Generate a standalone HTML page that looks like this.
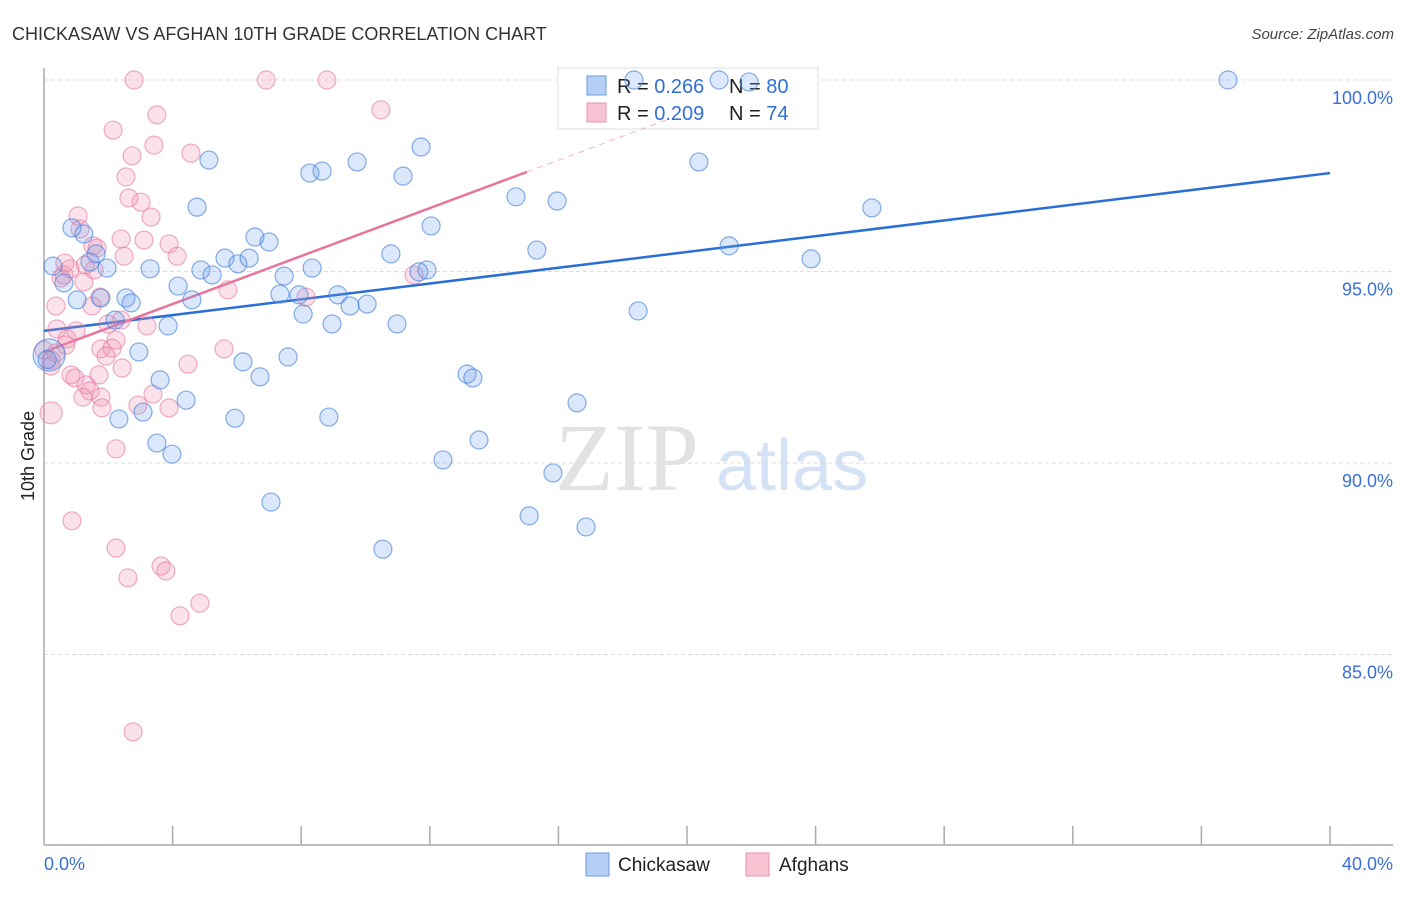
<!DOCTYPE html>
<html><head><meta charset="utf-8"><style>
body{margin:0;background:#fff;font-family:"Liberation Sans",sans-serif}
</style></head><body>
<svg id="chart" width="1406" height="892" xmlns="http://www.w3.org/2000/svg" font-family="Liberation Sans, sans-serif">
<text x="12" y="40" font-size="18" fill="#333">CHICKASAW VS AFGHAN 10TH GRADE CORRELATION CHART</text>
<text x="1394" y="39" font-size="15" fill="#444" font-style="italic" text-anchor="end">Source: ZipAtlas.com</text>
<text transform="translate(34,456) rotate(-90)" font-size="18" fill="#222" text-anchor="middle">10th Grade</text>
<g>
<text x="555" y="490" font-size="96" font-family="Liberation Serif, serif" fill="#e2e2e2">ZIP</text>
<text x="716" y="490" font-size="72" fill="#d5e2f5">atlas</text>
</g>
<g id="grid"></g><g id="axes"></g>
<g>
<rect x="558" y="68" width="260" height="61" fill="#fff" stroke="#ddd"/>
<rect x="587" y="76" width="19" height="19" fill="#b5cff5" stroke="#6b9be0"/>
<rect x="587" y="103" width="19" height="19" fill="#f8c3d3" stroke="#ec93b0"/>
<text x="617" y="93" font-size="20" fill="#222">R = <tspan fill="#2f6fd6">0.266</tspan></text>
<text x="729" y="93" font-size="20" fill="#222">N = <tspan fill="#2f6fd6">80</tspan></text>
<text x="617" y="120" font-size="20" fill="#222">R = <tspan fill="#2f6fd6">0.209</tspan></text>
<text x="729" y="120" font-size="20" fill="#222">N = <tspan fill="#2f6fd6"> 74</tspan></text>
</g>
<g id="trends"></g><g id="pts"></g>
<g>
<rect x="586" y="853" width="23" height="23" fill="#b5cff5" stroke="#6b9be0"/>
<text x="618" y="871" font-size="19" fill="#222">Chickasaw</text>
<rect x="746" y="853" width="23" height="23" fill="#f8c3d3" stroke="#ec93b0"/>
<text x="779" y="871" font-size="19" fill="#222">Afghans</text>
</g>
</svg>
<script>
const yTicks=[100,95,90,85];
const yTickLabels=["100.0%","95.0%","90.0%","85.0%"];
const xLabels=["0.0%","40.0%"];
const blueX=[0.28,0.87,1.24,0.62,1.03,1.43,1.62,1.96,1.77,2.21,2.55,2.71,2.95,3.30,3.61,3.86,4.17,4.60,4.76,4.88,5.13,5.23,5.63,6.03,6.38,6.56,7.00,7.34,7.47,7.59,7.93,8.06,8.27,8.34,8.65,8.96,9.14,9.52,9.74,10.05,10.79,10.98,11.17,11.73,11.91,12.04,11.66,13.16,13.34,12.41,13.53,14.68,15.33,15.96,16.58,18.48,20.37,21.31,23.86,25.75,36.83,21.0,18.35,21.93,15.09,16.86,15.83,10.54,7.06,8.86,5.94,6.19,6.72,4.42,3.98,3.51,3.08,2.33,0.16,0.1];
const blueY=[95.14,96.14,95.98,94.70,94.26,95.25,95.46,95.09,94.31,93.73,94.31,94.18,92.90,95.07,92.17,93.58,94.62,94.26,96.68,95.04,97.91,94.91,95.35,95.20,95.35,95.90,95.77,94.41,94.88,92.77,94.39,93.89,97.57,95.09,97.62,93.63,94.39,94.10,97.86,94.15,95.46,93.63,97.49,98.25,95.04,96.19,94.99,92.32,92.22,90.08,90.60,96.95,95.56,96.84,91.57,93.97,97.86,95.67,95.33,96.66,100,100,100,99.95,88.62,88.33,89.74,87.75,88.98,91.20,91.17,92.64,92.25,91.64,90.23,90.52,91.33,91.15,92.82,92.7];
const pinkX=[2.80,6.91,8.80,10.48,3.51,2.15,3.42,2.74,4.57,2.55,2.64,3.02,3.33,1.06,1.12,2.40,3.11,1.52,1.65,3.89,4.14,2.49,0.65,0.53,1.24,1.56,0.62,1.49,0.37,0.40,1.00,1.99,2.40,5.72,8.15,11.51,3.20,2.24,1.77,2.12,1.93,0.37,0.72,0.22,0.22,5.60,4.48,2.43,0.84,1.71,0.96,1.31,1.43,1.21,1.77,1.80,2.92,3.39,3.89,0.22,2.24,0.87,2.24,2.61,3.64,3.79,4.85,4.23,2.77,1.28,0.68,0.0,0.81,1.74];
const pinkY=[100,100,100,99.22,99.09,98.69,98.30,98.02,98.09,97.47,96.92,96.81,96.42,96.45,96.11,95.85,95.82,95.67,95.61,95.72,95.40,95.40,95.22,94.83,94.73,95.04,94.91,94.10,94.10,93.50,93.45,93.63,93.73,94.52,94.33,94.91,93.58,93.21,92.98,93.00,92.79,92.87,93.24,92.69,92.53,92.98,92.58,92.48,92.30,92.30,92.22,92.04,91.88,91.72,91.72,91.44,91.51,91.80,91.44,91.31,90.37,88.49,87.78,87.00,87.31,87.18,86.34,86.01,82.98,95.17,93.08,92.95,95.07,94.33];
const blueTrend=[[0,93.45],[40,97.57]];
const pinkTrend=[[0,92.90],[15.02,97.60]];
const pinkTrendExt=[[15.02,97.60],[19.5,99.0]];

const NS="http://www.w3.org/2000/svg";
const X0=44,X1=1330,YTOP=80,PER=38.3;
const sx=v=>X0+(v/40)*(X1-X0);
const sy=v=>YTOP+(100-v)*PER;
function mk(tag,attrs,parent){const e=document.createElementNS(NS,tag);for(const k in attrs)e.setAttribute(k,attrs[k]);parent.appendChild(e);return e;}
const grid=document.getElementById('grid'),axes=document.getElementById('axes'),tr=document.getElementById('trends'),pts=document.getElementById('pts');
yTicks.forEach((t,i)=>{
 const l=mk('line',{x1:X0,x2:1393,y1:sy(t),y2:sy(t),stroke:'#ddd','stroke-dasharray':'4,3'},grid);
 
 
 const tx=mk('text',{x:1393,y:sy(t)+24,'font-size':18,fill:'#3a6fd8','text-anchor':'end'},axes);
 tx.textContent=yTickLabels[i];
 
 
});
const ya=mk('line',{x1:X0,x2:X0,y1:68,y2:845,stroke:'#aaa','stroke-width':1.5},axes);


const xa=mk('line',{x1:X0,x2:1393,y1:845,y2:845,stroke:'#aaa','stroke-width':1.5},axes);


for(let i=1;i<=10;i++){
 const t=mk('line',{x1:sx(i*4),x2:sx(i*4),y1:826,y2:845,stroke:'#aaa','stroke-width':1.5},axes);
 
 
}
const xl0=mk('text',{x:44,y:870,'font-size':18,fill:'#3a6fd8'},axes);xl0.textContent=xLabels[0];


const xl1=mk('text',{x:1393,y:870,'font-size':18,fill:'#3a6fd8','text-anchor':'end'},axes);xl1.textContent=xLabels[1];


function dot(x,y,r,fill,stroke,name){
 const c=mk('circle',{cx:sx(x),cy:sy(y),r:r,fill:fill,stroke:stroke,'stroke-width':1.2},pts);
 
 
}
pinkX.forEach((x,i)=>dot(x,pinkY[i],(i==59)?11:9,'rgba(240,140,170,0.25)','rgba(230,120,160,0.6)','afghan-point'));
blueX.forEach((x,i)=>dot(x,blueY[i],(i==78)?16:9,'rgba(110,160,235,0.25)','rgba(70,130,220,0.65)','chickasaw-point'));
function line(p,col,name,dash){
 const l=mk('line',{x1:sx(p[0][0]),y1:sy(p[0][1]),x2:sx(p[1][0]),y2:sy(p[1][1]),stroke:col,'stroke-width':dash?1:2.5},tr);
 if(dash)l.setAttribute('stroke-dasharray','6,5');
 
 
}
line(blueTrend,'#2a6fd6','chickasaw-trend-line');
line(pinkTrend,'#e8739b','afghan-trend-line');
line(pinkTrendExt,'#f0b4c6','afghan-trend-extension',true);
</script>
</body></html>
